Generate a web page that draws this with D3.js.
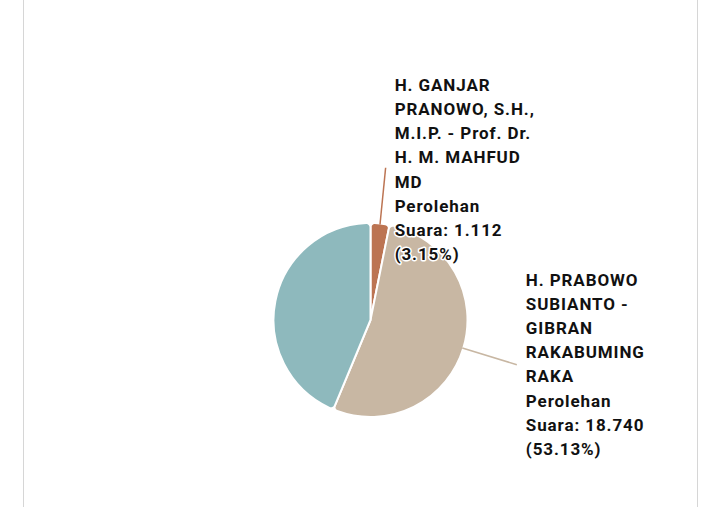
<!DOCTYPE html>
<html>
<head>
<meta charset="utf-8">
<script src="https://cdn.jsdelivr.net/npm/d3@7"></script>
<style>
  html, body { margin: 0; padding: 0; background: #fff; }
  svg { display: block; }
  text { font-family: Roboto, "Noto Sans", sans-serif; font-weight: bold; }
</style>
</head>
<body>
<svg id="chart" width="720" height="507"></svg>
<script>
// Data
const categories = [
  "H. GANJAR PRANOWO, S.H., M.I.P. - Prof. Dr. H. M. MAHFUD MD",
  "H. PRABOWO SUBIANTO - GIBRAN RAKABUMING RAKA",
  "H. ANIES RASYID BASWEDAN, Ph.D. - Dr. (H.C.) H. A. MUHAIMIN ISKANDAR"
];
const votes = [1112, 18740, 15420];
const percents = ["3.15%", "53.13%", "43.72%"];
const labelNameLines = [
  ["H. GANJAR", "PRANOWO, S.H.,", "M.I.P. - Prof. Dr.", "H. M. MAHFUD", "MD"],
  ["H. PRABOWO", "SUBIANTO -", "GIBRAN", "RAKABUMING", "RAKA"],
  null
];
const colors = ["#bc7452", "#c8b7a3", "#8eb9bd"];

const svg = d3.select("#chart");

// card borders
svg.append("line").attr("x1", 23.5).attr("x2", 23.5).attr("y1", 0).attr("y2", 507)
  .attr("stroke", "#d6d6d6").attr("stroke-width", 1);
svg.append("line").attr("x1", 697.5).attr("x2", 697.5).attr("y1", 0).attr("y2", 507)
  .attr("stroke", "#d6d6d6").attr("stroke-width", 1);

const cx = 370.5, cy = 320, R = 97, Rline = 153;
const g = svg.append("g").attr("transform", `translate(${cx},${cy})`);

const data = categories.map((c, i) => ({ name: c, value: votes[i], pct: percents[i], lines: labelNameLines[i], color: colors[i] }));

const pie = d3.pie().value(d => d.value).sort(null);
const arcs = pie(data);
const arc = d3.arc().innerRadius(0).outerRadius(R).cornerRadius(4);

g.selectAll("path.slice").data(arcs).enter().append("path")
  .attr("class", "slice")
  .attr("d", arc)
  .attr("fill", d => d.data.color)
  .attr("stroke", "#fff")
  .attr("stroke-width", 2)
  .attr("stroke-linejoin", "round");

const fmt = v => d3.format(",")(v).replace(/,/g, ".");
const lh = 24.2;
const labelOffsets = [{ dx: 9, dy: -77 }, { dx: 9, dy: -79 }];

arcs.forEach((a, i) => {
  if (!a.data.lines) return;
  const mid = (a.startAngle + a.endAngle) / 2;
  const sx = Math.sin(mid), sy = -Math.cos(mid);
  const x1 = sx * (R - 1), y1 = sy * (R - 1);
  const x2 = sx * Rline, y2 = sy * Rline;
  g.append("line").attr("x1", x1).attr("y1", y1).attr("x2", x2).attr("y2", y2)
    .attr("stroke", a.data.color).attr("stroke-width", 1.5);
  const lines = a.data.lines.concat(["Perolehan", "Suara: " + fmt(a.data.value), "(" + a.data.pct + ")"]);
  const off = labelOffsets[i];
  const t = g.append("text")
    .attr("x", x2 + off.dx)
    .attr("y", y2 + off.dy)
    .attr("font-size", 17)
    .attr("letter-spacing", "0.9px")
    .attr("fill", "#111")
    .attr("stroke", "#fff")
    .attr("stroke-width", 3)
    .attr("stroke-linejoin", "round")
    .attr("paint-order", "stroke");
  lines.forEach((l, k) => {
    t.append("tspan").attr("x", x2 + off.dx).attr("dy", k === 0 ? 0 : lh).text(l);
  });
});
</script>
</body>
</html>
